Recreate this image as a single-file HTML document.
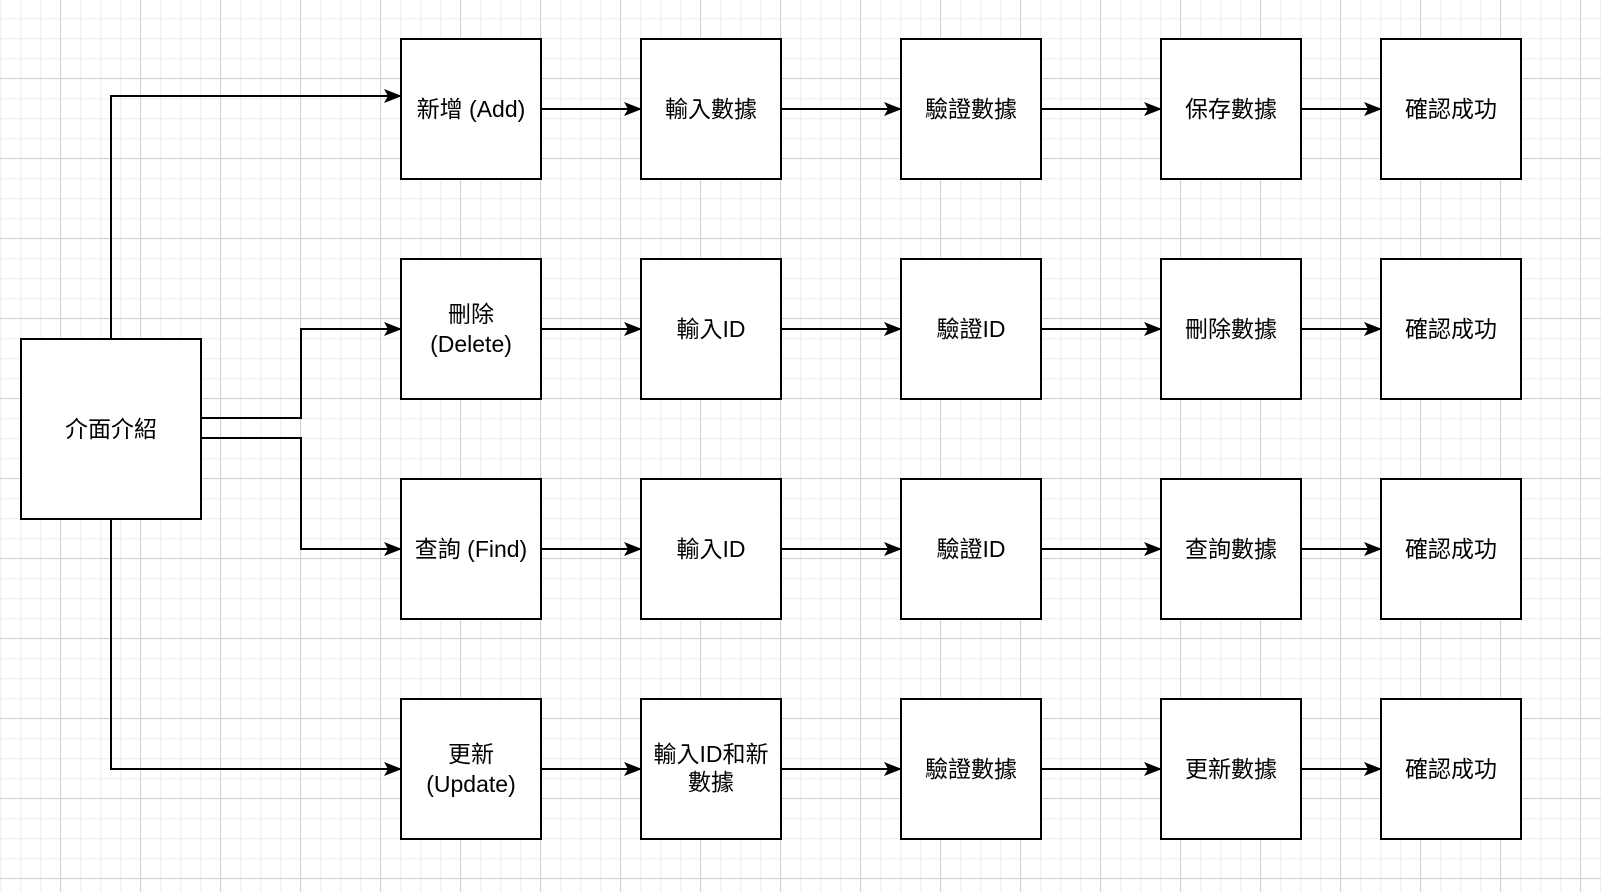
<!DOCTYPE html>
<html><head><meta charset="utf-8"><style>
html,body{margin:0;padding:0;background:#fff;}
svg{display:block;}
text{font-family:"Liberation Sans","Noto Sans CJK TC",sans-serif;font-size:23px;fill:#000;}
</style></head><body>
<svg width="1601" height="892" viewBox="0 0 1601 892" xmlns="http://www.w3.org/2000/svg">
<defs>
<pattern id="minor" x="0" y="18" width="20" height="20" patternUnits="userSpaceOnUse">
<path d="M0.5 0V20M0 0.5H20" stroke="#f0f0f0" stroke-width="1.5" fill="none"/>
</pattern>
<pattern id="major" x="60" y="78" width="80" height="80" patternUnits="userSpaceOnUse">
<path d="M0.5 0V80M0 0.5H80" stroke="#d0d0d0" stroke-width="1" fill="none"/>
</pattern>
<marker id="ar" markerWidth="18" markerHeight="14" refX="17" refY="7" orient="auto" markerUnits="userSpaceOnUse">
<path d="M0,0 L18,7 L0,14 L4,7 Z" fill="#000"/>
</marker>
</defs>
<rect width="1601" height="892" fill="#fff"/>
<rect width="1601" height="892" fill="url(#minor)"/>
<rect width="1601" height="892" fill="url(#major)"/>
<g stroke="#000" stroke-width="2" fill="none">
<path d="M111 339V96H401" marker-end="url(#ar)"/>
<path d="M201 418H301V329H401" marker-end="url(#ar)"/>
<path d="M201 438H301V549H401" marker-end="url(#ar)"/>
<path d="M111 519V769H401" marker-end="url(#ar)"/>
</g>
<g stroke="#000" stroke-width="2" fill="none">
<path d="M541 109H641" marker-end="url(#ar)"/><path d="M781 109H901" marker-end="url(#ar)"/><path d="M1041 109H1161" marker-end="url(#ar)"/><path d="M1301 109H1381" marker-end="url(#ar)"/>
<path d="M541 329H641" marker-end="url(#ar)"/><path d="M781 329H901" marker-end="url(#ar)"/><path d="M1041 329H1161" marker-end="url(#ar)"/><path d="M1301 329H1381" marker-end="url(#ar)"/>
<path d="M541 549H641" marker-end="url(#ar)"/><path d="M781 549H901" marker-end="url(#ar)"/><path d="M1041 549H1161" marker-end="url(#ar)"/><path d="M1301 549H1381" marker-end="url(#ar)"/>
<path d="M541 769H641" marker-end="url(#ar)"/><path d="M781 769H901" marker-end="url(#ar)"/><path d="M1041 769H1161" marker-end="url(#ar)"/><path d="M1301 769H1381" marker-end="url(#ar)"/>
</g>
<g stroke="#000" stroke-width="2" fill="#fff">
<rect x="21" y="339" width="180" height="180"/>
<rect x="401" y="39" width="140" height="140"/><rect x="641" y="39" width="140" height="140"/><rect x="901" y="39" width="140" height="140"/><rect x="1161" y="39" width="140" height="140"/><rect x="1381" y="39" width="140" height="140"/>
<rect x="401" y="259" width="140" height="140"/><rect x="641" y="259" width="140" height="140"/><rect x="901" y="259" width="140" height="140"/><rect x="1161" y="259" width="140" height="140"/><rect x="1381" y="259" width="140" height="140"/>
<rect x="401" y="479" width="140" height="140"/><rect x="641" y="479" width="140" height="140"/><rect x="901" y="479" width="140" height="140"/><rect x="1161" y="479" width="140" height="140"/><rect x="1381" y="479" width="140" height="140"/>
<rect x="401" y="699" width="140" height="140"/><rect x="641" y="699" width="140" height="140"/><rect x="901" y="699" width="140" height="140"/><rect x="1161" y="699" width="140" height="140"/><rect x="1381" y="699" width="140" height="140"/>
</g>
<g text-anchor="middle">
<text x="111" y="437">介面介紹</text>
<text x="471" y="117">新增 (Add)</text><text x="711" y="117">輸入數據</text><text x="971" y="117">驗證數據</text><text x="1231" y="117">保存數據</text><text x="1451" y="117">確認成功</text>
<text x="471" y="322">刪除</text><text x="471" y="352">(Delete)</text><text x="711" y="337">輸入ID</text><text x="971" y="337">驗證ID</text><text x="1231" y="337">刪除數據</text><text x="1451" y="337">確認成功</text>
<text x="471" y="557">查詢 (Find)</text><text x="711" y="557">輸入ID</text><text x="971" y="557">驗證ID</text><text x="1231" y="557">查詢數據</text><text x="1451" y="557">確認成功</text>
<text x="471" y="762">更新</text><text x="471" y="792">(Update)</text><text x="711" y="762">輸入ID和新</text><text x="711" y="790">數據</text><text x="971" y="777">驗證數據</text><text x="1231" y="777">更新數據</text><text x="1451" y="777">確認成功</text>
</g>
</svg>
</body></html>
